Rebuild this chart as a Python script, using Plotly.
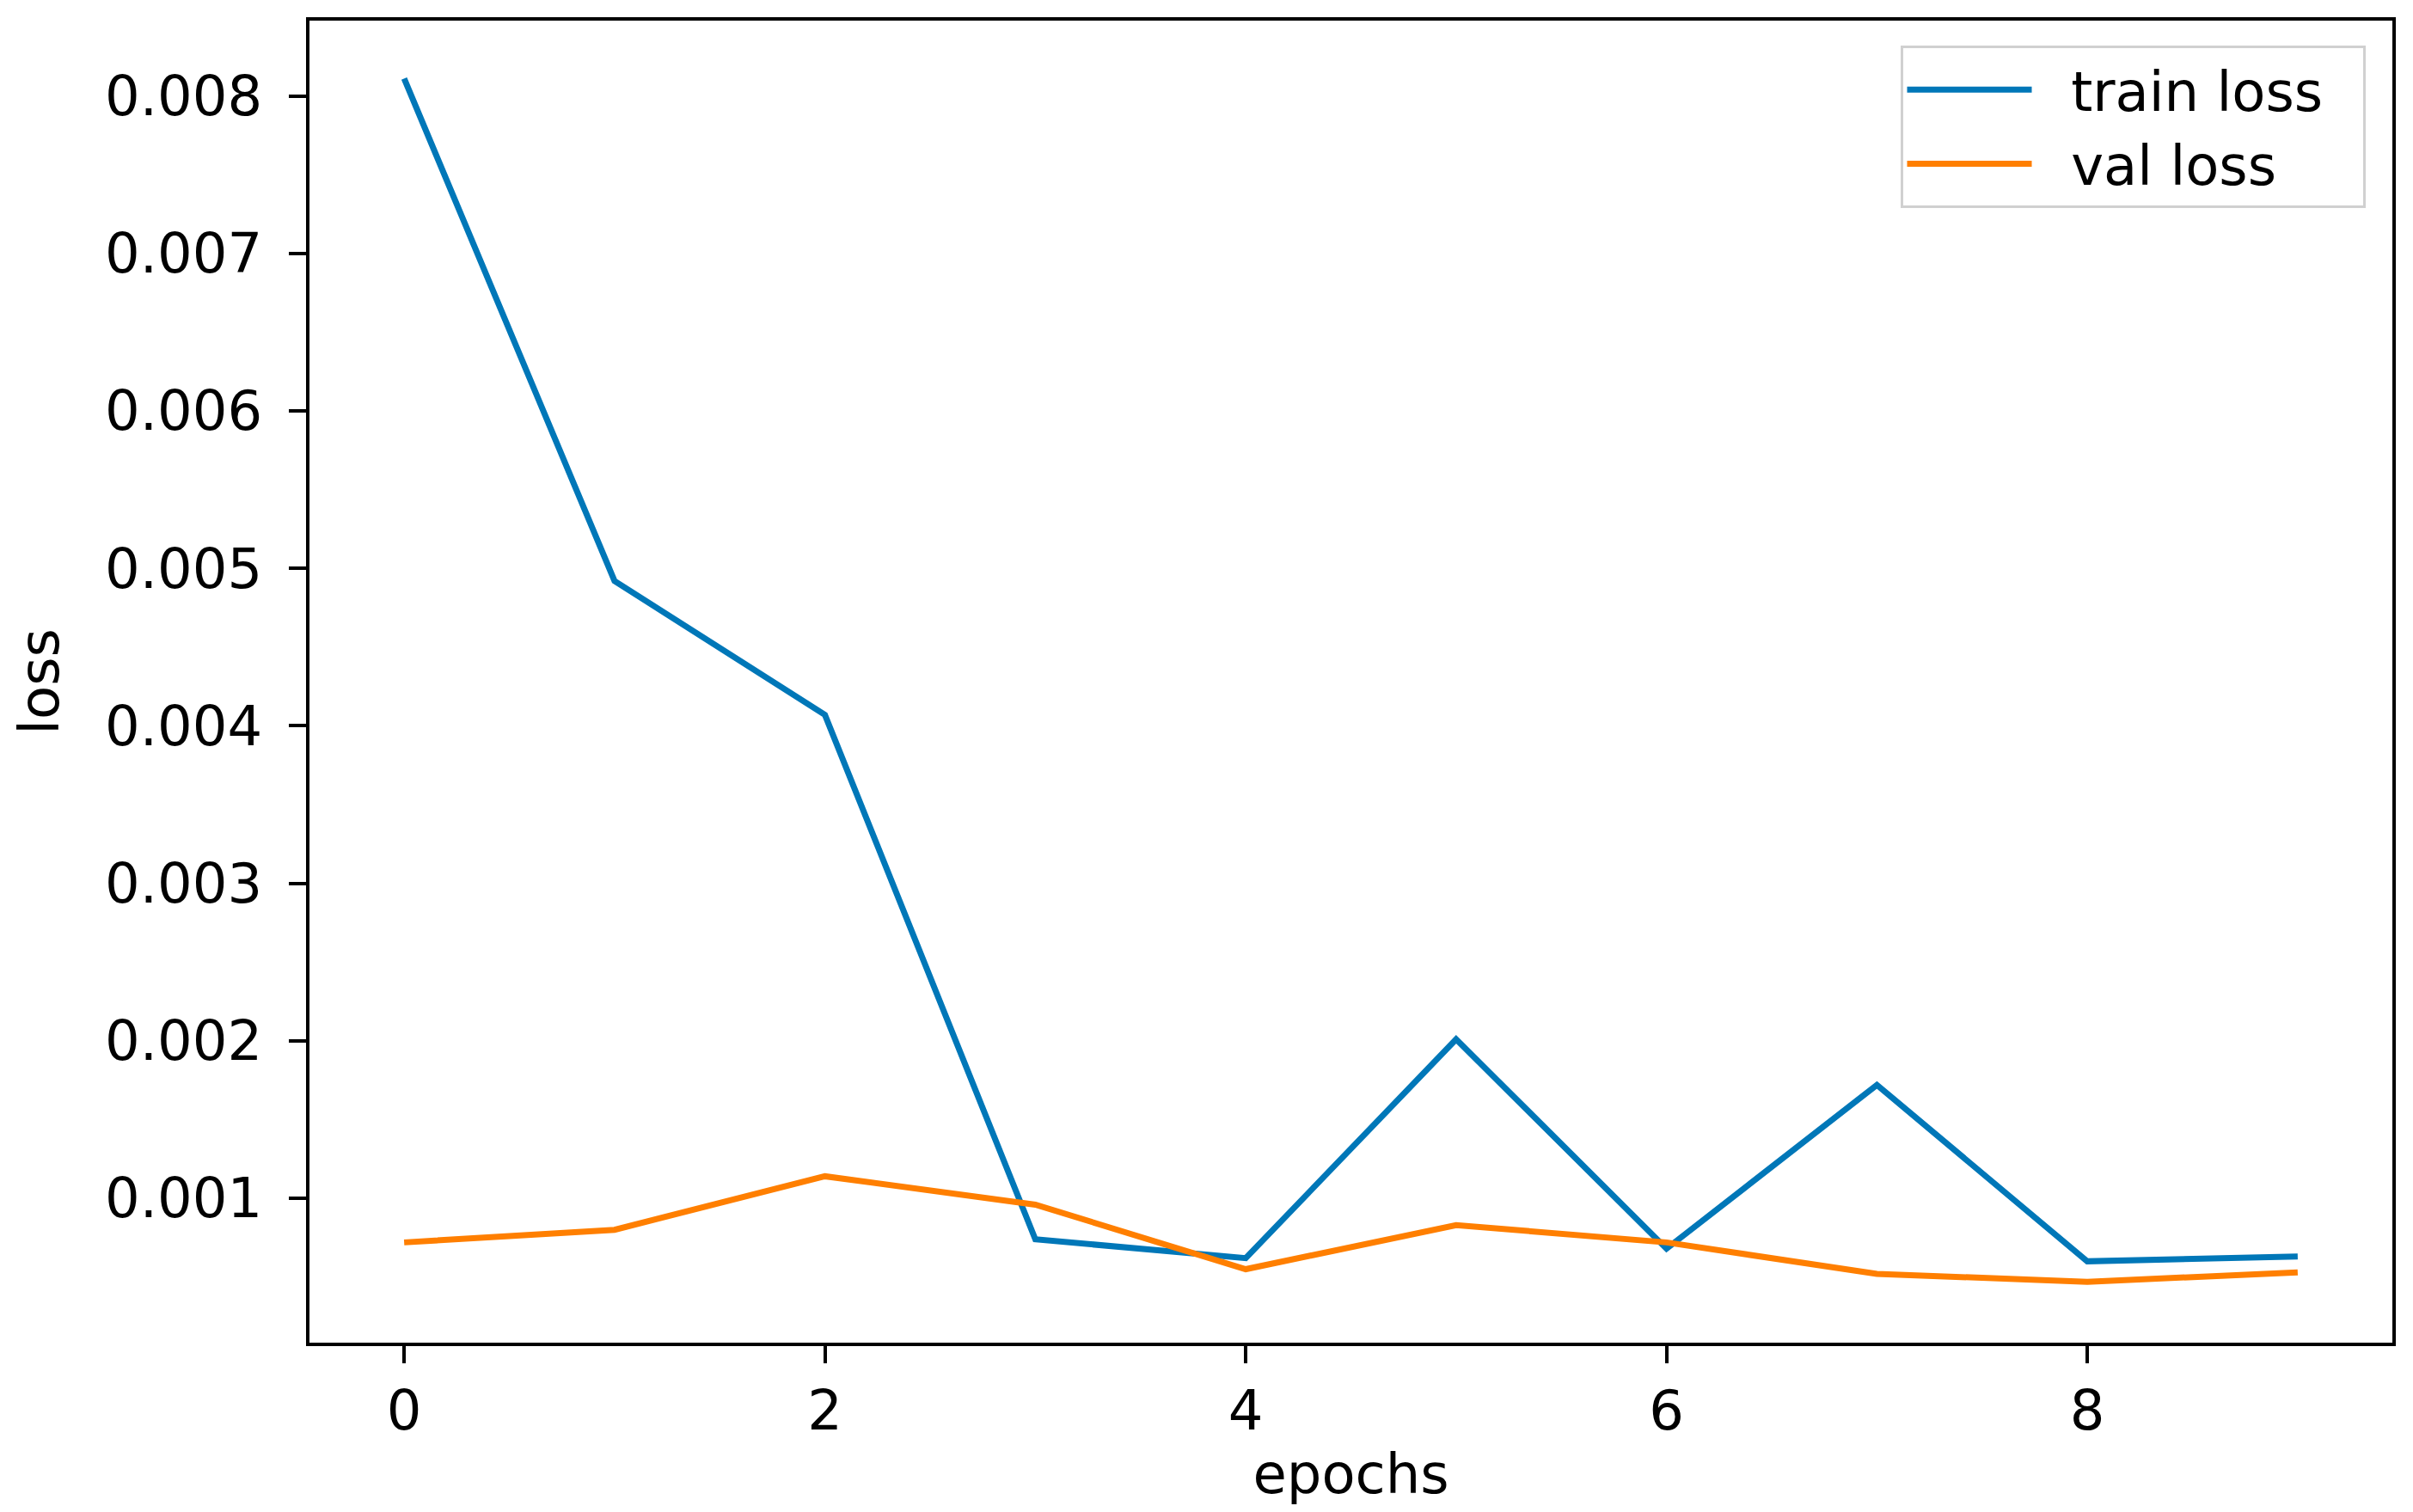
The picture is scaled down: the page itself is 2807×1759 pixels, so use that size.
import plotly.graph_objects as go

epochs = [0, 1, 2, 3, 4, 5, 6, 7, 8, 9]
train_loss = [0.00811, 0.00492, 0.00407, 0.00074, 0.00062, 0.00201, 0.00068, 0.00172, 0.00060, 0.00063]
val_loss = [0.00072, 0.00080, 0.00114, 0.00096, 0.00055, 0.00083, 0.00072, 0.00052, 0.00047, 0.00053]
y_ticks = [0.001, 0.002, 0.003, 0.004, 0.005, 0.006, 0.007, 0.008]
x_ticks = [0, 2, 4, 6, 8]
series_names = ["train loss", "val loss"]

FONT = "DejaVu Sans"
FS = 64
GAP = "\u00a0\u00a0"
TAIL = "\u00a0\u00a0"

fig = go.Figure()
fig.add_trace(go.Scatter(x=epochs, y=train_loss, mode="lines", name=GAP + series_names[0] + TAIL,
                         line=dict(color="#0077b8", width=7)))
fig.add_trace(go.Scatter(x=epochs, y=val_loss, mode="lines", name=GAP + series_names[1] + TAIL,
                         line=dict(color="#ff7f00", width=7)))

axis_common = dict(showline=True, linecolor="black", linewidth=4, mirror=True,
                   ticks="outside", ticklen=20, tickwidth=4, tickcolor="black",
                   showgrid=False, zeroline=False,
                   tickfont=dict(family=FONT, size=FS, color="black"))

fig.update_xaxes(range=[-0.45, 9.45], tickvals=x_ticks,
                 title=dict(text="epochs", font=dict(family=FONT, size=FS, color="black"), standoff=15),
                 ticklabelstandoff=0, **axis_common)
fig.update_yaxes(range=[0.0000835, 0.008478], tickvals=y_ticks, tickformat=".3f",
                 title=dict(text="loss", font=dict(family=FONT, size=FS, color="black"), standoff=34),
                 ticklabelstandoff=18, **axis_common)

fig.update_layout(
    width=2807, height=1759,
    margin=dict(l=352, r=32, t=14, b=205),
    plot_bgcolor="white", paper_bgcolor="white",
    font=dict(family=FONT, size=FS, color="black"),
    showlegend=True,
    legend=dict(x=0.987, y=0.981, xanchor="right", yanchor="top",
                bgcolor="white", bordercolor="#d0d0d0", borderwidth=3,
                font=dict(family=FONT, size=FS, color="black"),
                itemwidth=145, tracegroupgap=0),
)

fig.write_html("out.html")
